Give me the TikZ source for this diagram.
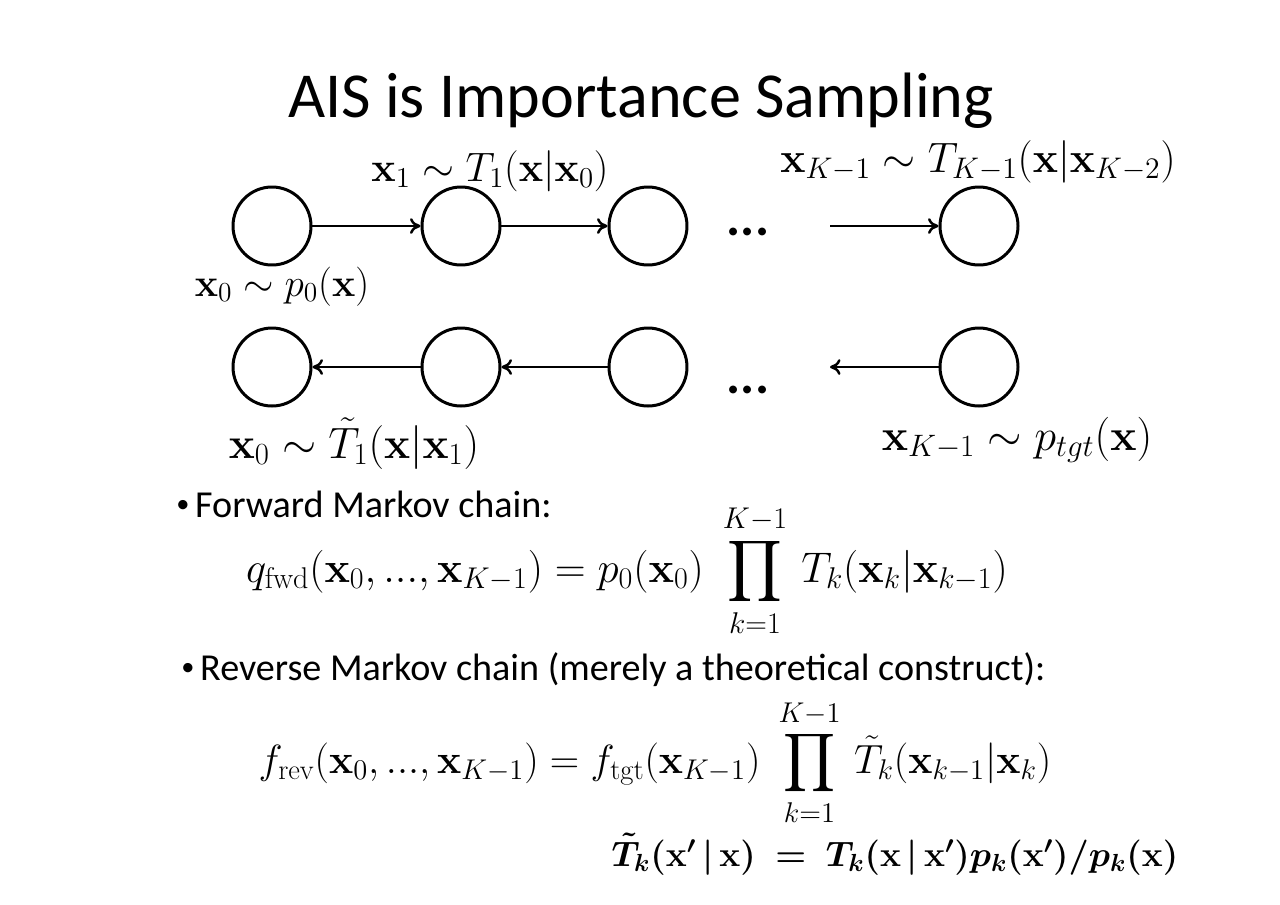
\RequirePackage{fix-cm}
\documentclass[tikz,border=0pt]{standalone}
\usepackage[no-math]{fontspec}
\usepackage{amsmath,amssymb,bm}
\usetikzlibrary{arrows.meta,positioning}
\newfontfamily\slidefont{Carlito}
\newcommand{\fs}[1]{\fontsize{#1}{1.2\dimexpr #1\relax}\selectfont}
\newcommand{\slidebullet}{\raisebox{0.12em}{\fs{15pt}\textbullet}\kern0.15em}

\begin{document}
\begin{tikzpicture}[x=0.02cm,y=-0.02cm,
  state/.style={circle, draw, line width=1.7pt, minimum size=1.56cm, inner sep=0pt},
  link/.style={line width=1.4pt, -{To[length=6pt,width=9pt]}},
  mlabel/.style={anchor=base, inner sep=0pt},
  bullet/.style={anchor=base west, inner sep=0pt, font=\slidefont\fs{21.7pt}},
  dots/.style={font=\slidefont\bfseries\fs{30pt}, inner sep=0pt}]
  \useasboundingbox (0,0) rectangle (1280,904);
  % Title
  \node[mlabel, font=\slidefont\fs{36.5pt}] (title) at (641,117) {AIS is Importance Sampling};
  % Forward chain
  \node[state] (f1) at (272,226) {};
  \node[state] (f2) at (461,226) {};
  \node[state] (f3) at (648,226) {};
  \node[state] (f4) at (979,226) {};
  \node[dots] (fdots) at (748,232) {...};
  \coordinate (fin) at (830,226);
  \draw[link] (f1) -- (f2);
  \draw[link] (f2) -- (f3);
  \draw[link] (fin) -- (f4);
  % Reverse chain
  \node[state] (r1) at (272,367) {};
  \node[state] (r2) at (461,367) {};
  \node[state] (r3) at (648,367) {};
  \node[state] (r4) at (979,367) {};
  \node[dots] (rdots) at (748,390) {...};
  \coordinate (rout) at (830,367);
  \draw[link] (r2) -- (r1);
  \draw[link] (r3) -- (r2);
  \draw[link] (r4) -- (rout);
  % Chain labels
  \node[mlabel, font=\fs{23.4pt}] (lx1) at (490,181) {$\mathbf{x}_1 \sim T_1(\mathbf{x}|\mathbf{x}_0)$};
  \node[mlabel, font=\fs{24.2pt}] (lxk) at (978,172) {$\mathbf{x}_{K-1} \sim T_{K-1}(\mathbf{x}|\mathbf{x}_{K-2})$};
  \node[mlabel, font=\fs{22.3pt}] (lx0) at (282,296) {$\mathbf{x}_0 \sim p_0(\mathbf{x})$};
  \node[mlabel, font=\fs{25pt}] (lrx0) at (354,458) {$\mathbf{x}_0 \sim \tilde{T}_1(\mathbf{x}|\mathbf{x}_1)$};
  \node[mlabel, font=\fs{25.2pt}] (lrxk) at (1017,450) {$\mathbf{x}_{K-1} \sim p_{tgt}(\mathbf{x})$};
  % Forward Markov chain
  \node[bullet] (bfwd) at (176,517) {\slidebullet Forward Markov chain:};
  \node[mlabel, font=\fs{24.4pt}] (qfwd) at (627,582)
    {$\displaystyle q_{\text{fwd}}(\mathbf{x}_0,...,\mathbf{x}_{K-1}) = p_0(\mathbf{x}_0)\;\prod_{k=1}^{K-1}\, T_k(\mathbf{x}_k|\mathbf{x}_{k-1})$};
  % Reverse Markov chain
  \node[bullet] (brev) at (181,680) {\slidebullet Reverse Markov chain (merely a theoretical construct):};
  \node[mlabel, font=\fs{23.2pt}] (frev) at (655,773)
    {$\displaystyle f_{\text{rev}}(\mathbf{x}_0,...,\mathbf{x}_{K-1}) = f_{\text{tgt}}(\mathbf{x}_{K-1})\;\prod_{k=1}^{K-1}\, \tilde{T}_k(\mathbf{x}_{k-1}|\mathbf{x}_k)$};
  % Backward kernel
  \node[mlabel, font=\fs{20.1pt}] (tk) at (895,866)
    {$\bm{\tilde{T}_k(\mathbf{x}' \,|\, \mathbf{x}) \;=\; T_k(\mathbf{x} \,|\, \mathbf{x}')p_k(\mathbf{x}')/p_k(\mathbf{x})}$};
\end{tikzpicture}
\end{document}
